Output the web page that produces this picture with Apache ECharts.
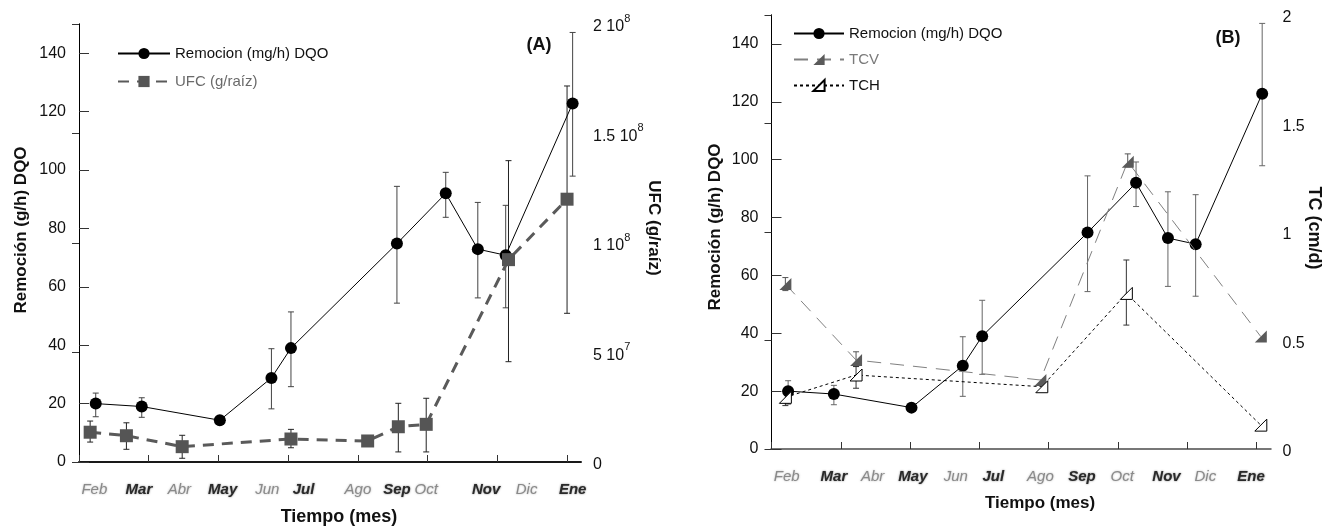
<!DOCTYPE html>
<html>
<head>
<meta charset="utf-8">
<script src="https://cdn.jsdelivr.net/npm/echarts@6/dist/echarts.min.js"></script>
<style>
  html, body { margin: 0; padding: 0; background: #fff; }
  #chart { width: 1325px; height: 529px; }
</style>
</head>
<body>
<div id="chart"></div>
<script>
// Month labels along the time axis (days from start of sampling)
const monthNames = ['Feb', 'Mar', 'Abr', 'May', 'Jun', 'Jul', 'Ago', 'Sep', 'Oct', 'Nov', 'Dic', 'Ene'];
const monthBold  = [false, true, false, true, false, true, false, true, false, true, false, true];
const monthDaysA = [11, 43, 72, 103, 135, 161, 200, 228, 249, 292, 321, 354];
const monthDaysB = [11, 45, 73, 102, 133, 160, 194, 224, 253, 285, 313, 346];
const dayTicks   = [0, 50, 100, 150, 200, 250, 300, 350];

// Remoción DQO (g/h), shared by both panels
const remDays = [12, 45, 101, 138, 152, 228, 263, 286, 306, 354];
const remVal  = [20, 19, 14.3, 28.8, 39, 74.8, 92, 72.9, 70.8, 122.8];
const remLow  = [15.5, 15.3, null, 18.2, 25.8, 54.4, 83.8, 56.2, 52.8, 97.9];
const remHigh = [23.6, 22, null, 38.8, 51.4, 94.4, 99.2, 88.9, 87.9, 147.1];

// UFC (g/raíz)
const ufcDays = [8, 34, 74, 152, 207, 229, 249, 308, 350];
const ufcVal  = [1.36e7, 1.2e7, 7.0e6, 1.05e7, 9.6e6, 1.61e7, 1.72e7, 9.24e7, 1.2e8];
const ufcLow  = [9.1e6, 5.8e6, 1.7e6, 6.5e6, null, 4.6e6, 4.6e6, 4.58e7, 6.79e7];
const ufcHigh = [1.87e7, 1.79e7, 1.22e7, 1.49e7, null, 2.68e7, 2.91e7, 1.376e8, 1.717e8];

// TCV and TCH (cm/d)
const tcvDays = [10, 61, 194, 257, 353];
const tcvVal  = [0.76, 0.41, 0.318, 1.324, 0.518];
const tcvLow  = [0.73, 0.38, null, 1.30, null];
const tcvHigh = [0.79, 0.448, null, 1.36, null];
const tchDays = [10, 61, 195, 256, 353];
const tchVal  = [0.238, 0.341, 0.287, 0.717, 0.11];
const tchLow  = [0.20, 0.28, null, 0.571, null];
const tchHigh = [0.27, 0.38, null, 0.871, null];

const leftTicks  = [0, 20, 40, 60, 80, 100, 120, 140];
const ufcTicks   = [0, 5e7, 1e8, 1.5e8, 2e8];
const tcTicks    = [0, 0.5, 1, 1.5, 2];

const FONT = "'Liberation Sans', Arial, sans-serif";
const TRI = 'path://M0,10 L10,10 L10,0 Z';

const pairs = (xs, ys) => xs.map((x, i) => [x, ys[i]]);

function errorBars(xs, lo, hi, xi, yi, color) {
  const data = [];
  xs.forEach((x, i) => { if (lo[i] != null) data.push([x, lo[i], hi[i]]); });
  return {
    type: 'custom', xAxisIndex: xi, yAxisIndex: yi, data, z: 2, silent: true,
    encode: { x: 0, y: [1, 2] },
    renderItem(params, api) {
      const x = api.value(0);
      const a = api.coord([x, api.value(1)]);
      const b = api.coord([x, api.value(2)]);
      const w = 3;
      const style = { stroke: color, lineWidth: 1, fill: null };
      return {
        type: 'group', children: [
          { type: 'line', shape: { x1: a[0], y1: a[1], x2: b[0], y2: b[1] }, style },
          { type: 'line', shape: { x1: a[0] - w, y1: a[1], x2: a[0] + w, y2: a[1] }, style },
          { type: 'line', shape: { x1: b[0] - w, y1: b[1], x2: b[0] + w, y2: b[1] }, style }
        ]
      };
    }
  };
}

function monthAxis(gridIndex, days) {
  return {
    type: 'value', gridIndex, min: 0, max: 360, position: 'bottom',
    splitLine: { show: false },
    axisLine: { lineStyle: { color: '#666', width: 2 } },
    axisTick: { inside: true, length: 7, customValues: dayTicks, lineStyle: { color: '#333' } },
    axisLabel: {
      customValues: days, margin: 20,
      formatter: v => {
        const i = days.indexOf(v);
        return i < 0 ? '' : (monthBold[i] ? '{b|' : '{g|') + monthNames[i] + '}';
      },
      rich: {
        b: { fontFamily: FONT, fontSize: 15, fontStyle: 'italic', fontWeight: 'bold', color: '#2a2a2a',
             textShadowColor: 'rgba(40,40,40,0.6)', textShadowBlur: 2 },
        g: { fontFamily: FONT, fontSize: 15, fontStyle: 'italic', color: '#8a8a8a',
             textShadowColor: 'rgba(130,130,130,0.6)', textShadowBlur: 2 }
      }
    }
  };
}

function topAxis(gridIndex, color, width) {
  return {
    type: 'value', gridIndex, min: 0, max: 360, position: 'top',
    axisLine: { lineStyle: { color, width } },
    axisTick: { show: false }, axisLabel: { show: false }, splitLine: { show: false }
  };
}

function leftAxis(gridIndex) {
  return {
    type: 'value', gridIndex, min: 0, max: 150, position: 'left',
    splitLine: { show: false },
    axisLine: { show: true, lineStyle: { color: '#000', width: 1 } },
    axisTick: { inside: true, length: 10, customValues: leftTicks, lineStyle: { color: '#333' } },
    axisLabel: { customValues: leftTicks, margin: 13, color: '#111', fontSize: 16, fontFamily: FONT }
  };
}

function rightAxis(gridIndex, max, ticks, fmt) {
  return {
    type: 'value', gridIndex, min: 0, max, position: 'right',
    splitLine: { show: false },
    axisLine: { show: true, lineStyle: { color: '#000', width: 1 } },
    axisTick: { inside: true, length: 7, customValues: ticks, lineStyle: { color: '#333' } },
    axisLabel: {
      customValues: ticks, margin: 12, color: '#111', fontSize: 16, fontFamily: FONT,
      formatter: fmt,
      rich: {
        n: { fontSize: 16, fontFamily: FONT, color: '#111', lineHeight: 22, verticalAlign: 'bottom' },
        s: { fontSize: 11, fontFamily: FONT, color: '#111', lineHeight: 22, verticalAlign: 'top' }
      }
    }
  };
}

const sciFmt = v => {
  if (v === 0) return '{n|0}';
  const e = Math.floor(Math.log10(v) + 1e-9);
  const m = Math.round(v / Math.pow(10, e) * 10) / 10;
  return '{n|' + m + ' 10}{s|' + e + '}';
};

const REM = 'Remocion (mg/h) DQO';
const UFC = 'UFC (g/raíz)';

const titleText = (x, y, text, size, rot) => ({
  type: 'text', x, y, rotation: rot || 0, silent: true,
  style: { text, font: 'bold ' + size + 'px ' + FONT, fill: '#111', align: 'center', verticalAlign: 'middle' }
});

const option = {
  animation: false,
  backgroundColor: '#fff',
  grid: [
    { left: 79, top: 24, width: 502, height: 438 },
    { left: 771.5, top: 15, width: 499, height: 434 }
  ],
  xAxis: [monthAxis(0, monthDaysA), topAxis(0, '#000', 1.5), monthAxis(1, monthDaysB), topAxis(1, '#777', 2)],
  yAxis: [
    leftAxis(0),
    rightAxis(0, 2e8, ufcTicks, sciFmt),
    leftAxis(1),
    rightAxis(1, 2, tcTicks, v => '{n|' + v + '}')
  ],
  legend: [
    {
      orient: 'vertical', left: 112, top: 41, itemWidth: 52, itemHeight: 14, itemGap: 13,
      textStyle: { fontFamily: FONT, fontSize: 15, color: '#111' },
      data: [{ name: REM }, { name: UFC, textStyle: { color: '#6a6a6a' } }]
    },
    {
      orient: 'vertical', left: 788, top: 21, itemWidth: 50, itemHeight: 14, itemGap: 11,
      textStyle: { fontFamily: FONT, fontSize: 15, color: '#111' },
      data: [{ name: REM }, { name: 'TCV', textStyle: { color: '#7a7a7a' } }, { name: 'TCH' }]
    }
  ],
  graphic: [
    titleText(339, 517, 'Tiempo (mes)', 18),
    titleText(1040, 503, 'Tiempo (mes)', 17),
    titleText(21, 230, 'Remoción (g/h) DQO', 17, Math.PI / 2),
    titleText(715, 227, 'Remoción (g/h) DQO', 17, Math.PI / 2),
    titleText(654, 228, 'UFC (g/raíz)', 17, -Math.PI / 2),
    titleText(1314, 228, 'TC (cm/d)', 18, -Math.PI / 2),
    titleText(539, 45, '(A)', 18),
    titleText(1228, 38, '(B)', 18)
  ],
  series: [
    // Panel A
    errorBars(remDays, remLow, remHigh, 0, 0, '#444'),
    errorBars(ufcDays, ufcLow, ufcHigh, 0, 1, '#222'),
    {
      name: REM, type: 'line', xAxisIndex: 0, yAxisIndex: 0, z: 3,
      data: pairs(remDays, remVal), symbol: 'circle', symbolSize: 12,
      lineStyle: { color: '#000', width: 1 }, itemStyle: { color: '#000' }
    },
    {
      name: UFC, type: 'line', xAxisIndex: 0, yAxisIndex: 1, z: 4,
      data: pairs(ufcDays, ufcVal), symbol: 'rect', symbolSize: 13,
      lineStyle: { color: '#5a5a5a', width: 3, type: [11, 8] }, itemStyle: { color: '#555' }
    },
    // Panel B
    errorBars(remDays, remLow, remHigh, 2, 2, '#666'),
    errorBars(tcvDays, tcvLow, tcvHigh, 2, 3, '#555'),
    errorBars(tchDays, tchLow, tchHigh, 2, 3, '#333'),
    {
      name: REM, type: 'line', xAxisIndex: 2, yAxisIndex: 2, z: 3,
      data: pairs(remDays, remVal), symbol: 'circle', symbolSize: 12,
      lineStyle: { color: '#000', width: 1 }, itemStyle: { color: '#000' }
    },
    {
      name: 'TCV', type: 'line', xAxisIndex: 2, yAxisIndex: 3, z: 4,
      data: pairs(tcvDays, tcvVal), symbol: TRI, symbolSize: 12,
      lineStyle: { color: '#808080', width: 1, type: [14, 9] }, itemStyle: { color: '#5a5a5a' }
    },
    {
      name: 'TCH', type: 'line', xAxisIndex: 2, yAxisIndex: 3, z: 4,
      data: pairs(tchDays, tchVal), symbol: TRI, symbolSize: 12,
      lineStyle: { color: '#000', width: 1, type: [3, 3] },
      itemStyle: { color: '#fff', borderColor: '#000', borderWidth: 1 }
    }
  ]
};

const chart = echarts.init(document.getElementById('chart'), null, { renderer: 'canvas' });
chart.setOption(option);
</script>
</body>
</html>
